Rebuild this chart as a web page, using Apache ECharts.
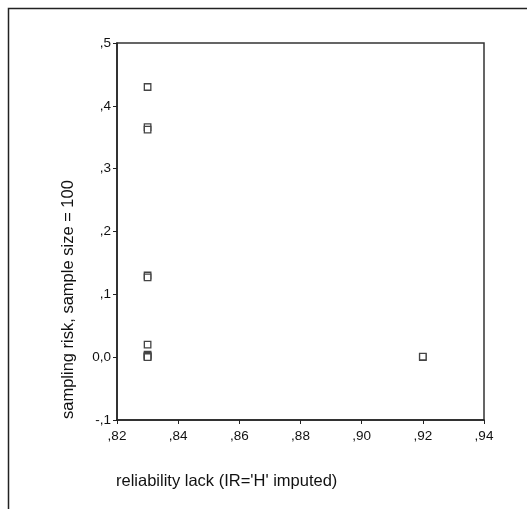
<!DOCTYPE html>
<html><head><meta charset="utf-8">
<script src="https://cdn.jsdelivr.net/npm/echarts@6/dist/echarts.min.js"></script>
<style>html,body{margin:0;padding:0;background:#fff}#c{width:527px;height:509px}</style>
</head><body><div id="c"></div>
<script>
const reliabilityLack = [0.83, 0.83, 0.83, 0.83, 0.83, 0.83, 0.83, 0.83, 0.83, 0.83, 0.92, 0.92];
const samplingRisk   = [0.430, 0.366, 0.362, 0.130, 0.127, 0.020, 0.004, 0.002, 0.001, 0.000, 0.000, 0.001];
const xTickValues = [0.82, 0.84, 0.86, 0.88, 0.90, 0.92, 0.94];
const xTickLabels = [",82", ",84", ",86", ",88", ",90", ",92", ",94"];
const yTickValues = [-0.1, 0.0, 0.1, 0.2, 0.3, 0.4, 0.5];
const yTickLabels = ["-,1", "0,0", ",1", ",2", ",3", ",4", ",5"];
const xTitle = "reliability lack (IR='H' imputed)";
const yTitle = "sampling risk, sample size = 100";

function lookup(vals, labels, v){
  for (let i=0;i<vals.length;i++) if (Math.abs(vals[i]-v)<1e-6) return labels[i];
  return '';
}
const pts = reliabilityLack.map((x,i)=>[x, samplingRisk[i]]);
const font = 'Liberation Sans, Arial, sans-serif';
const chart = echarts.init(document.getElementById('c'), null, {renderer:'canvas'});
chart.setOption({
  animation:false,
  backgroundColor:'#fff',
  grid:{left:117, right:43, top:43, bottom:89, show:true, borderColor:'#333', borderWidth:1.5, backgroundColor:'transparent'},
  xAxis:{type:'value', min:0.82, max:0.94, interval:0.02,
    axisLine:{show:true, onZero:false, lineStyle:{color:'#222', width:1.5}},
    axisTick:{show:true, length:4, lineStyle:{color:'#222'}},
    splitLine:{show:false},
    axisLabel:{color:'#111', fontSize:13.5, fontFamily:font, margin:9, formatter:v=>lookup(xTickValues,xTickLabels,v)}},
  yAxis:{type:'value', min:-0.1, max:0.5, interval:0.1,
    axisLine:{show:true, onZero:false, lineStyle:{color:'#222', width:1.5}},
    axisTick:{show:true, length:4, lineStyle:{color:'#222'}},
    splitLine:{show:false},
    axisLabel:{color:'#111', fontSize:13.5, fontFamily:font, margin:6, formatter:v=>lookup(yTickValues,yTickLabels,v)}},
  series:[{type:'scatter', data:pts, symbol:'rect', symbolSize:6.5,
    itemStyle:{color:'#fff', borderColor:'#444', borderWidth:1.3, opacity:1}}],
  graphic:[
    {type:'rect', left:6, top:6, shape:{width:600, height:600}, style:{fill:'none', stroke:'#222', lineWidth:1.5}, silent:true},
    {type:'text', left:116, top:473, style:{text:xTitle, font:'16.5px '+font, fill:'#111'}},
    {type:'text', x:60, y:419, rotation:Math.PI/2, style:{text:yTitle, font:'16.5px '+font, fill:'#111', align:'left', verticalAlign:'top'}}
  ]
});
</script></body></html>
